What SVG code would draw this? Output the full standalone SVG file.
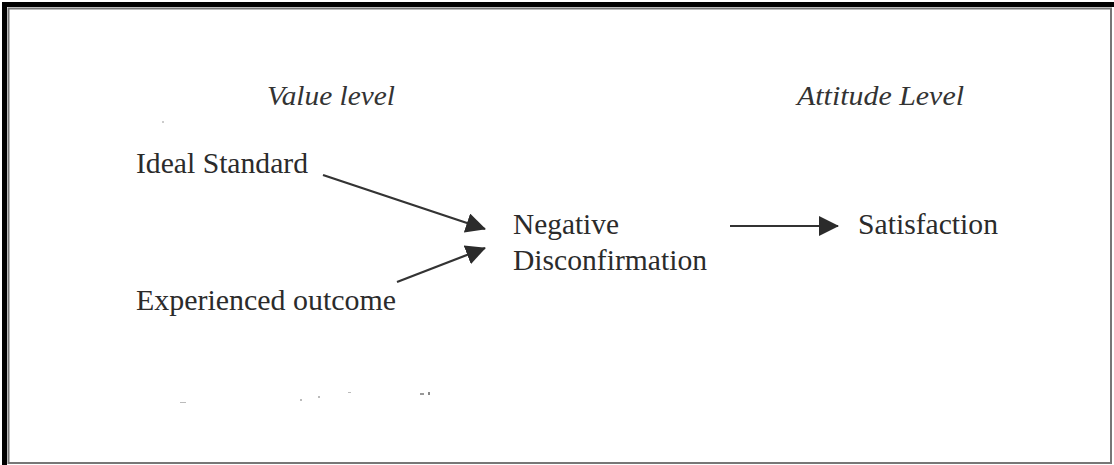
<svg xmlns="http://www.w3.org/2000/svg" width="1114" height="465" viewBox="0 0 1114 465">
<defs>
<style>
.t{font-family:"Liberation Serif","Times New Roman",serif;font-size:29px;fill:#2b2b2b}
.h{font-family:"Liberation Serif","Times New Roman",serif;font-size:28px;font-style:italic;fill:#333}
.c{stroke:#333;stroke-width:2.2;fill:none}
</style>
<marker id="ah" markerWidth="20" markerHeight="20" refX="19" refY="10" orient="auto" markerUnits="userSpaceOnUse">
<path d="M0,0 L20,10 L0,20 Z" fill="#2b2b2b"/>
</marker>
</defs>
<rect width="1114" height="465" fill="#fff"/>
<g id="frame">
<rect x="8.5" y="8.5" width="1102.5" height="454.5" fill="none" stroke="#777" stroke-width="2"/>
<rect x="2" y="2" width="1112" height="5" fill="#000"/>
<rect x="2" y="2" width="5" height="463" fill="#000"/>
</g>
<g id="value-level"><text class="h" x="267" y="105" textLength="128" lengthAdjust="spacingAndGlyphs">Value level</text></g>
<g id="attitude-level"><text class="h" x="797" y="105" textLength="167" lengthAdjust="spacingAndGlyphs">Attitude Level</text></g>
<g id="ideal-standard"><text class="t" x="136" y="173" textLength="172" lengthAdjust="spacingAndGlyphs">Ideal Standard</text></g>
<g id="experienced-outcome"><text class="t" x="136" y="310" textLength="260" lengthAdjust="spacingAndGlyphs">Experienced outcome</text></g>
<g id="negative-disconfirmation"><text class="t" x="513" y="234" textLength="106" lengthAdjust="spacingAndGlyphs">Negative</text><text class="t" x="513" y="270" textLength="194" lengthAdjust="spacingAndGlyphs">Disconfirmation</text></g>
<g id="satisfaction"><text class="t" x="858" y="234" textLength="140" lengthAdjust="spacingAndGlyphs">Satisfaction</text></g>
<g id="connectors">
<line class="c" x1="323" y1="175" x2="485" y2="229" marker-end="url(#ah)"/>
<line class="c" x1="397" y1="282" x2="485" y2="248" marker-end="url(#ah)"/>
<line class="c" x1="730" y1="226" x2="838" y2="226" marker-end="url(#ah)"/>
</g>
<g id="specks" fill="#bbb">
<circle cx="163" cy="122" r="1"/>
<rect x="180" y="402" width="6" height="1"/>
<rect x="300" y="399" width="2" height="2"/>
<rect x="318" y="396" width="2" height="2"/>
<rect x="348" y="392" width="3" height="1"/>
<rect x="420" y="393" width="4" height="2" fill="#999"/>
<rect x="428" y="392" width="2" height="3" fill="#888"/>
</g>
</svg>
